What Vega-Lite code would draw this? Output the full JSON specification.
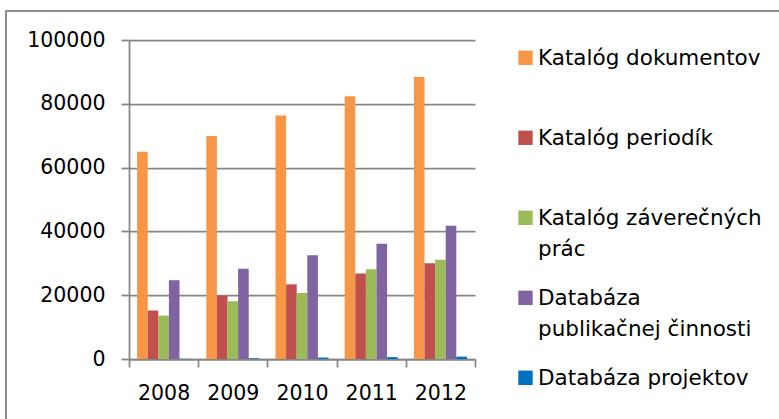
{
  "$schema": "https://vega.github.io/schema/vega-lite/v6.json",
  "padding": {"left": 5, "top": 10, "right": 0, "bottom": 0},
  "background": "white",
  "config": {"view": {"stroke": null}, "font": "DejaVu Sans"},
  "datasets": {
    "bars": [
      {"year": "2008", "series": "Katalóg dokumentov", "value": 65000},
      {"year": "2008", "series": "Katalóg periodík", "value": 15200},
      {"year": "2008", "series": "Katalóg záverečných prác", "value": 13600},
      {"year": "2008", "series": "Databáza publikačnej činnosti", "value": 24700},
      {"year": "2008", "series": "Databáza projektov", "value": 50},
      {"year": "2009", "series": "Katalóg dokumentov", "value": 69900},
      {"year": "2009", "series": "Katalóg periodík", "value": 19800},
      {"year": "2009", "series": "Katalóg záverečných prác", "value": 18100},
      {"year": "2009", "series": "Databáza publikačnej činnosti", "value": 28300},
      {"year": "2009", "series": "Databáza projektov", "value": 200},
      {"year": "2010", "series": "Katalóg dokumentov", "value": 76300},
      {"year": "2010", "series": "Katalóg periodík", "value": 23400},
      {"year": "2010", "series": "Katalóg záverečných prác", "value": 20700},
      {"year": "2010", "series": "Databáza publikačnej činnosti", "value": 32500},
      {"year": "2010", "series": "Databáza projektov", "value": 450},
      {"year": "2011", "series": "Katalóg dokumentov", "value": 82400},
      {"year": "2011", "series": "Katalóg periodík", "value": 26800},
      {"year": "2011", "series": "Katalóg záverečných prác", "value": 28100},
      {"year": "2011", "series": "Databáza publikačnej činnosti", "value": 36100},
      {"year": "2011", "series": "Databáza projektov", "value": 600},
      {"year": "2012", "series": "Katalóg dokumentov", "value": 88400},
      {"year": "2012", "series": "Katalóg periodík", "value": 30000},
      {"year": "2012", "series": "Katalóg záverečných prác", "value": 31100},
      {"year": "2012", "series": "Databáza publikačnej činnosti", "value": 41800},
      {"year": "2012", "series": "Databáza projektov", "value": 750}
    ],
    "series": [
      {"series": "Katalóg dokumentov", "label": "Katalóg dokumentov"},
      {"series": "Katalóg periodík", "label": "Katalóg periodík"},
      {"series": "Katalóg záverečných prác", "label": "Katalóg záverečných\nprác"},
      {"series": "Databáza publikačnej činnosti", "label": "Databáza\npublikačnej činnosti"},
      {"series": "Databáza projektov", "label": "Databáza projektov"}
    ]
  },
  "bounds": "flush",
  "spacing": 0,
  "hconcat": [
    {
      "width": 2, "height": 409,
      "data": {"values": []},
      "mark": "point",
      "encoding": {},
      "view": {"fill": "#8e8e8e", "stroke": null}
    },
    {
      "bounds": "flush",
      "spacing": 28,
      "vconcat": [
        {
          "width": 772, "height": 2,
          "data": {"values": []},
          "mark": "point",
          "encoding": {},
          "view": {"fill": "#8e8e8e", "stroke": null}
        },
        {
          "bounds": "flush",
          "spacing": 50,
          "hconcat": [
            {
              "width": 72, "height": 1,
              "data": {"values": []},
              "mark": "point",
              "encoding": {}
            },
            {
              "width": 346, "height": 319,
              "data": {"name": "bars"},
              "mark": {"type": "bar"},
              "encoding": {
                "x": {
                  "field": "year", "type": "ordinal",
                  "scale": {"paddingInner": 0, "paddingOuter": 0},
                  "axis": {
                    "title": null, "labelAngle": 0, "tickBand": "extent", "grid": false,
                    "domainColor": "#868686", "domainWidth": 1.75,
                    "tickColor": "#868686", "tickWidth": 1.75, "tickSize": 8,
                    "labelFont": "DejaVu Sans", "labelFontSize": 20.5, "labelColor": "#000000",
                    "labelPadding": 16
                  }
                },
                "xOffset": {
                  "field": "series", "type": "nominal",
                  "scale": {
                    "domain": ["Katalóg dokumentov", "Katalóg periodík", "Katalóg záverečných prác", "Databáza publikačnej činnosti", "Databáza projektov"],
                    "paddingInner": 0, "paddingOuter": 0.764
                  }
                },
                "y": {
                  "field": "value", "type": "quantitative",
                  "scale": {"domain": [0, 100000], "nice": false},
                  "axis": {
                    "title": null, "values": [0, 20000, 40000, 60000, 80000, 100000], "format": "d",
                    "grid": true, "gridColor": "#868686", "gridWidth": 1.75,
                    "domainColor": "#868686", "domainWidth": 1.75,
                    "tickColor": "#868686", "tickWidth": 1.75, "tickSize": 8,
                    "labelFont": "DejaVu Sans", "labelFontSize": 20.5, "labelColor": "#000000",
                    "labelPadding": 16
                  }
                },
                "color": {
                  "field": "series", "type": "nominal",
                  "scale": {
                    "domain": ["Katalóg dokumentov", "Katalóg periodík", "Katalóg záverečných prác", "Databáza publikačnej činnosti", "Databáza projektov"],
                    "range": ["#F79646", "#C0504D", "#9BBB59", "#8064A2", "#0070C0"]
                  },
                  "legend": null
                }
              }
            },
            {
              "width": 1, "height": 355.6,
              "data": {"name": "series"},
              "encoding": {
                "y": {
                  "field": "series", "type": "nominal", "sort": null,
                  "scale": {
                    "type": "point", "padding": 0.2225,
                    "domain": ["Katalóg dokumentov", "Katalóg periodík", "Katalóg záverečných prác", "Databáza publikačnej činnosti", "Databáza projektov"]
                  },
                  "axis": null
                }
              },
              "layer": [
                {
                  "mark": {"type": "point", "shape": "square", "filled": true, "size": 207, "opacity": 1},
                  "encoding": {
                    "color": {
                      "field": "series", "type": "nominal",
                      "scale": {
                        "domain": ["Katalóg dokumentov", "Katalóg periodík", "Katalóg záverečných prác", "Databáza publikačnej činnosti", "Databáza projektov"],
                        "range": ["#F79646", "#C0504D", "#9BBB59", "#8064A2", "#0070C0"]
                      },
                      "legend": null
                    }
                  }
                },
                {
                  "mark": {
                    "type": "text", "align": "left", "baseline": "alphabetic",
                    "dx": 12.5, "dy": 7.5, "lineBreak": "\n", "lineHeight": 30.7,
                    "font": "DejaVu Sans", "fontSize": 21.5, "fill": "#000000"
                  },
                  "encoding": {"text": {"field": "label"}}
                }
              ]
            }
          ]
        }
      ]
    }
  ]
}
